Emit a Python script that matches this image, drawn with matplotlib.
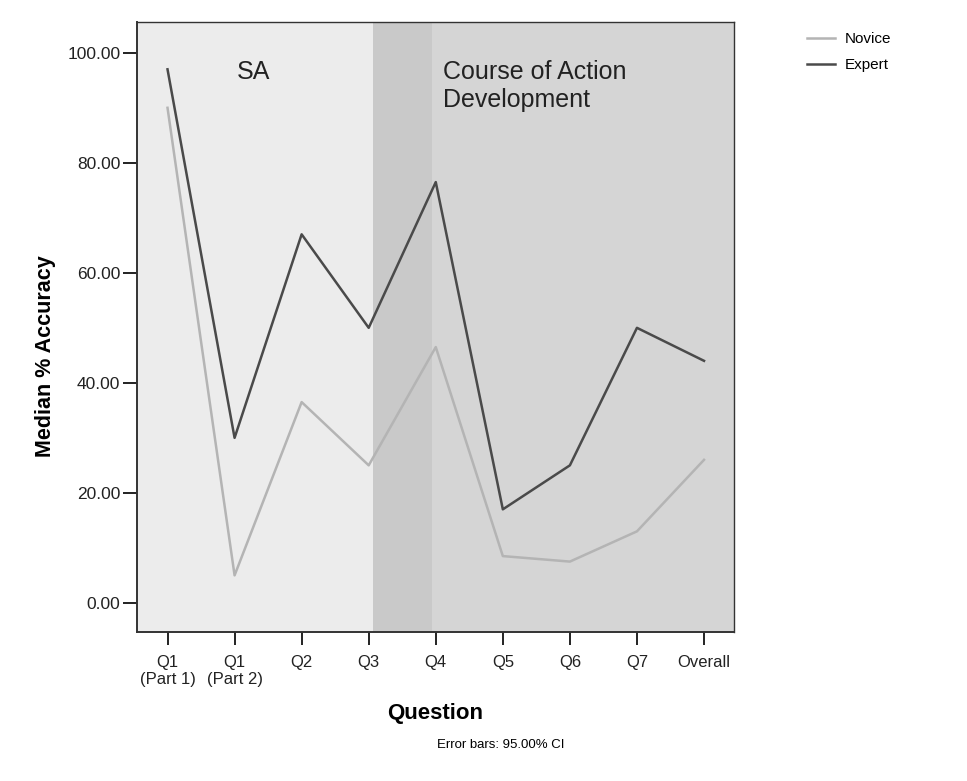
import matplotlib
matplotlib.use("Agg")
import matplotlib.pyplot as plt
from matplotlib.lines import Line2D

plt.rcParams['font.family'] = ['Liberation Sans', 'DejaVu Sans']

categories = ["Q1\n(Part 1)", "Q1\n(Part 2)", "Q2", "Q3", "Q4", "Q5", "Q6", "Q7", "Overall"]
expert = [97, 30, 67, 50, 76.5, 17, 25, 50, 44]
novice = [90, 5, 36.5, 25, 46.5, 8.5, 7.5, 13, 26]
y_ticks = [0, 20, 40, 60, 80, 100]

W, H = 967, 781
fig = plt.figure(figsize=(W/100, H/100), dpi=100)
fig.patch.set_facecolor('white')
ax = fig.add_axes([137/W, 1-632/H, (734-137)/W, (632-22)/H])

x = list(range(len(categories)))
ax.set_xlim(-0.455, 8.447)
ax.set_ylim(-5.3, 105.6)

# background regions
ax.axvspan(-0.455, 3.06, color='#ececec', zorder=0, lw=0)
ax.axvspan(3.06, 3.94, color='#c9c9c9', zorder=0, lw=0)
ax.axvspan(3.94, 8.447, color='#d5d5d5', zorder=0, lw=0)

ax.plot(x, novice, color='#b4b4b4', lw=1.8, zorder=3)
ax.plot(x, expert, color='#4a4a4a', lw=1.8, zorder=4)

ax.text(1.275, 96.6, "SA", fontsize=18, color='#222222', ha='center', va='center')
ax.text(4.108, 96.6, "Course of Action", fontsize=18, color='#222222', ha='left', va='center')
ax.text(4.108, 91.5, "Development", fontsize=18, color='#222222', ha='left', va='center')

ax.set_xticks(x)
ax.set_xticklabels(categories, fontsize=12, color='#222222', linespacing=1.2)
ax.set_yticks(y_ticks)
ax.set_yticklabels([f"{v:.2f}" for v in y_ticks], fontsize=12.5, color='#222222')
ax.tick_params(axis='x', direction='out', length=9, width=1.4, color='#222222', pad=7.5)
ax.tick_params(axis='y', direction='out', length=10, width=1.4, color='#222222', pad=2)
for s in ax.spines.values():
    s.set_color('#333333')
    s.set_linewidth(1.0)
ax.spines['bottom'].set_linewidth(1.4)
ax.spines['left'].set_linewidth(1.4)

fig.text(46/W, 1-356/H, "Median % Accuracy", fontsize=15.5, fontweight='bold',
         rotation=90, ha='center', va='center')
fig.text(0.5*(137+734)/W, 1-713/H, "Question", fontsize=16, fontweight='bold',
         ha='center', va='center')
fig.text(501/W, 1-745/H, "Error bars: 95.00% CI", fontsize=9.5, ha='center', va='center')

handles = [Line2D([], [], color='#b4b4b4', lw=1.8), Line2D([], [], color='#4a4a4a', lw=1.8)]
leg = fig.legend(handles, ["Novice", "Expert"], loc='upper left',
                 bbox_to_anchor=(807/W, 1-32/H), frameon=False, fontsize=11,
                 handlelength=1.8, handletextpad=0.65, labelspacing=0.8,
                 borderpad=0, borderaxespad=0)

fig.savefig("out.png", dpi=100)
